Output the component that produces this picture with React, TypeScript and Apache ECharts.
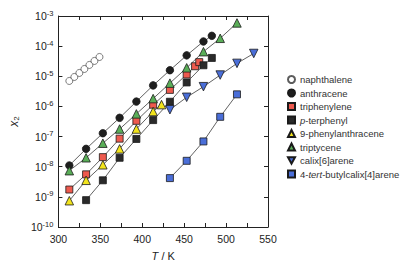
import React, { useEffect, useRef } from "react";
import * as echarts from "echarts";

// Temperatures (K) and mole fractions
const tNaph = [313, 319, 325, 331, 337, 343, 349];
const xNaph = [7.0e-6, 9.5e-6, 1.29e-5, 1.75e-5, 2.38e-5, 3.23e-5, 4.37e-5];

const tAnth = [313, 333, 353, 373, 393, 413, 433, 453, 473, 483];
const xAnth = [1.1e-8, 3.91e-8, 1.29e-7, 4.19e-7, 1.45e-6, 4.98e-6, 1.59e-5, 4.94e-5, 1.43e-4, 2.2e-4];

const tTriphenylene = [313, 333, 353, 373, 393, 413, 433, 453, 463, 468];
const xTriphenylene = [1.75e-9, 5.58e-9, 2.08e-8, 8.53e-8, 3.33e-7, 1.14e-6, 3.54e-6, 1.15e-5, 2.15e-5, 2.95e-5];

const tTerphenyl = [333, 353, 373, 393, 413, 433, 453, 473, 483];
const xTerphenyl = [7.78e-10, 3.54e-9, 1.98e-8, 8.34e-8, 3.52e-7, 1.43e-6, 6.25e-6, 2.32e-5, 4.06e-5];

const tPhenylanth = [313, 333, 353, 373, 393, 413, 423];
const xPhenylanth = [7.45e-10, 3.54e-9, 1.16e-8, 3.91e-8, 1.78e-7, 6.79e-7, 1.15e-6];

const tTriptycene = [313, 333, 353, 373, 393, 413, 433, 453, 473, 493, 513];
const xTriptycene = [7.38e-9, 1.98e-8, 6.03e-8, 1.78e-7, 5.66e-7, 1.82e-6, 5.93e-6, 1.91e-5, 6.55e-5, 1.82e-4, 5.89e-4];

const tCalix6 = [433, 453, 473, 493, 513, 533];
const xCalix6 = [7.78e-7, 2.01e-6, 4.52e-6, 1.1e-5, 2.68e-5, 5.71e-5];

const tCalix4 = [433, 453, 473, 493, 513];
const xCalix4 = [4.19e-9, 1.57e-8, 6.9e-8, 4.52e-7, 2.52e-6];

const seriesNames = [
  "naphthalene",
  "anthracene",
  "triphenylene",
  "p-terphenyl",
  "9-phenylanthracene",
  "triptycene",
  "calix[6]arene",
  "4-tert-butylcalix[4]arene",
];

const xTicks = [300, 350, 400, 450, 500, 550];

const FONT = "Liberation Sans, Arial, Helvetica, sans-serif";

const pairs = (t: number[], x: number[]) => t.map((v, i) => [v, x[i]]);

export default function App() {
  const ref = useRef<HTMLDivElement>(null);
  useEffect(() => {
    if (!ref.current) return;
    const chart = echarts.init(ref.current, undefined, { renderer: "svg" });
    const lineStyle = { color: "#3a3a3a", width: 0.8 };
    const border = { borderColor: "#1a1a1a", borderWidth: 0.8 };
    const mk = (
      name: string,
      t: number[],
      x: number[],
      symbol: string,
      color: string,
      size: number,
      rotate = 0,
      z = 2
    ) => ({
      name,
      type: "line",
      data: pairs(t, x),
      symbol,
      symbolSize: size,
      symbolRotate: rotate,
      showAllSymbol: true,
      lineStyle,
      itemStyle: { color, ...border },
      z,
    });
    const downTri = "path://M0,0 L10,0 L5,9 Z";
    chart.setOption({
      animation: false,
      backgroundColor: "#ffffff",
      textStyle: { fontFamily: FONT },
      grid: { left: 55, top: 16, width: 213, height: 213, containLabel: false },
      legend: {
        orient: "vertical",
        left: 282,
        top: 69,
        itemWidth: 7,
        itemHeight: 7,
        itemGap: 2.5,
        textStyle: {
          fontFamily: FONT,
          fontSize: 9.5,
          lineHeight: 11,
          color: "#333",
          rich: {
            i: { fontStyle: "italic", fontSize: 9.5, fontFamily: FONT, color: "#333" },
            n: { fontSize: 9.5, fontFamily: FONT, color: "#333" },
          },
        },
        formatter: (n: string) => {
          if (n === "p-terphenyl") return "{i|p}{n|-terphenyl}";
          if (n === "4-tert-butylcalix[4]arene") return "{n|4-}{i|tert}{n|-butylcalix[4]arene}";
          return n;
        },
        data: [
          { name: seriesNames[0], icon: "circle" },
          { name: seriesNames[1], icon: "circle" },
          { name: seriesNames[2], icon: "rect" },
          { name: seriesNames[3], icon: "rect" },
          { name: seriesNames[4], icon: "triangle" },
          { name: seriesNames[5], icon: "triangle" },
          { name: seriesNames[6], icon: downTri },
          { name: seriesNames[7], icon: "rect" },
        ],
      },
      xAxis: [
        {
          type: "value",
          min: 300,
          max: 550,
          interval: 50,
          name: "{i|T} / K",
          nameLocation: "middle",
          nameGap: 23,
          nameTextStyle: {
            fontFamily: FONT,
            fontSize: 11,
            color: "#222",
            rich: { i: { fontStyle: "italic", fontSize: 11, fontFamily: FONT, color: "#222" } },
          },
          axisLine: { lineStyle: { color: "#222", width: 1 } },
          axisTick: { inside: true, length: 4, lineStyle: { color: "#222" } },
          minorTick: { show: true, splitNumber: 2, length: 4, lineStyle: { color: "#222" } },
          axisLabel: {
            fontFamily: FONT,
            fontSize: 10.5,
            color: "#222",
            margin: 6,
            formatter: (v: number) => (xTicks.includes(v) ? String(v) : ""),
          },
          splitLine: { show: false },
        },
        {
          type: "value",
          position: "top",
          min: 300,
          max: 550,
          interval: 50,
          axisLine: { lineStyle: { color: "#222", width: 1 } },
          axisTick: { inside: true, length: 4, lineStyle: { color: "#222" } },
          minorTick: { show: true, splitNumber: 2, length: 4, lineStyle: { color: "#222" } },
          axisLabel: { show: false },
          splitLine: { show: false },
        },
      ],
      yAxis: [
        {
          type: "log",
          logBase: 10,
          min: 1e-10,
          max: 1e-3,
          name: "{i|x}{s|2}",
          nameLocation: "middle",
          nameGap: 34,
          nameRotate: 90,
          nameTextStyle: {
            fontFamily: FONT,
            fontSize: 12,
            color: "#222",
            rich: {
              i: { fontStyle: "italic", fontSize: 12, fontFamily: FONT, color: "#222" },
              s: { fontSize: 8, fontFamily: FONT, color: "#222", padding: [4, 0, 0, 0] },
            },
          },
          axisLine: { lineStyle: { color: "#222", width: 1 } },
          axisTick: { inside: true, length: 4, lineStyle: { color: "#222" } },
          axisLabel: {
            fontFamily: FONT,
            color: "#222",
            margin: 5,
            formatter: (v: number) => {
              const e = Math.round(Math.log10(v));
              return `{b|10}{s|${e}}`;
            },
            rich: {
              b: { fontSize: 10.5, fontFamily: FONT, color: "#222" },
              s: { fontSize: 7.5, fontFamily: FONT, color: "#222", padding: [0, 0, 6, 0] },
            },
          },
          splitLine: { show: false },
        },
        {
          type: "log",
          logBase: 10,
          min: 1e-10,
          max: 1e-3,
          position: "right",
          axisLine: { lineStyle: { color: "#222", width: 1 } },
          axisTick: { inside: true, length: 4, lineStyle: { color: "#222" } },
          axisLabel: { show: false },
          splitLine: { show: false },
        },
      ],
      series: [
        {
          name: seriesNames[0],
          type: "scatter",
          data: pairs(tNaph, xNaph),
          symbol: "circle",
          symbolSize: 7,
          itemStyle: { color: "#ffffff", borderColor: "#333", borderWidth: 0.8 },
          z: 3,
        },
        mk(seriesNames[1], tAnth, xAnth, "circle", "#1e1e1e", 7.5),
        mk(seriesNames[2], tTriphenylene, xTriphenylene, "rect", "#ee5a4e", 7),
        mk(seriesNames[3], tTerphenyl, xTerphenyl, "rect", "#2a2a2a", 7),
        mk(seriesNames[4], tPhenylanth, xPhenylanth, "triangle", "#f2e41c", 8.5),
        mk(seriesNames[5], tTriptycene, xTriptycene, "triangle", "#5aae58", 8.5),
        mk(seriesNames[6], tCalix6, xCalix6, "triangle", "#4a6ed8", 8.5, 180),
        mk(seriesNames[7], tCalix4, xCalix4, "rect", "#4a6ed8", 7),
      ],
    });
    return () => chart.dispose();
  }, []);
  return (
    <div
      ref={ref}
      style={{ position: "absolute", left: 0, top: 0, width: 413, height: 266 }}
    />
  );
}
